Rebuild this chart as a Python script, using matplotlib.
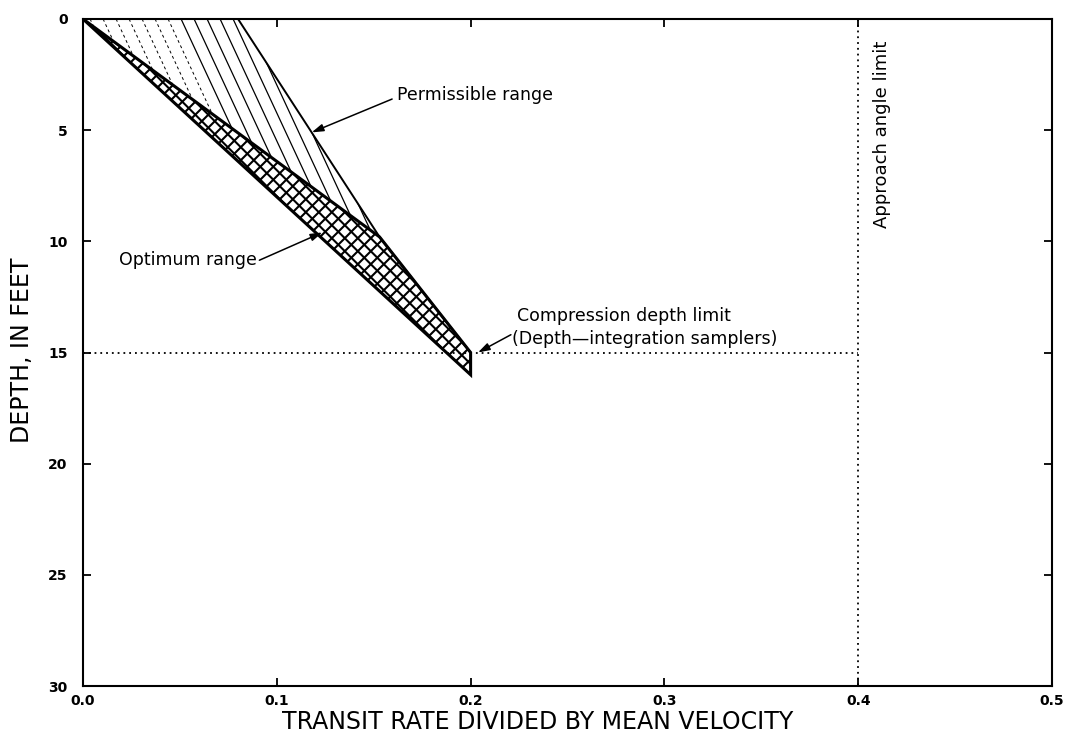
import matplotlib
matplotlib.use("Agg")
import matplotlib.pyplot as plt
import numpy as np
from matplotlib.patches import Polygon
from matplotlib.collections import LineCollection
from matplotlib.ticker import FormatStrFormatter

# chart values
approach_limit_x = 0.4
compression_depth = 15.0
# hatched part of the permissible range (between optimum band and outer line)
perm_x = [0.0, 0.08, 0.153]
perm_depth = [0.0, 0.0, 9.8]
# outer permissible line
perm_line_x = [0.08, 0.153, 0.2]
perm_line_depth = [0.0, 9.8, 15.0]
# optimum (cross-hatched) band
opt_x = [0.0, 0.153, 0.2, 0.2]
opt_depth = [0.0, 9.8, 15.0, 16.0]

x_ticks = [0.0, 0.1, 0.2, 0.3, 0.4, 0.5]
y_ticks = [0, 5, 10, 15, 20, 25, 30]

plt.rcParams['font.family'] = ['DejaVu Sans']

W, H, DPI = 1067, 734, 100
fig = plt.figure(figsize=(W / DPI, H / DPI), dpi=DPI)
ax = fig.add_axes([83 / W, 1 - 686 / H, (1052 - 83) / W, (686 - 19) / H])
ax.set_xlim(0, 0.5)
ax.set_ylim(30, 0)
ax.set_xticks(x_ticks)
ax.set_yticks(y_ticks)
ax.xaxis.set_major_formatter(FormatStrFormatter('%.1f'))
ax.tick_params(direction='in', length=6, width=1.3, top=True, right=True,
               labelsize=10)
ax.tick_params(axis='y', pad=11)
ax.tick_params(axis='x', pad=6)
for lab in ax.get_xticklabels() + ax.get_yticklabels():
    lab.set_fontweight('bold')
for sp in ax.spines.values():
    sp.set_linewidth(1.5)

# pixel scale of the axes, used for hatch spacing
pos = ax.get_position()
px_per_x = pos.width * W / 0.5
px_per_d = pos.height * H / 30.0


def hatch_segments(slope_px, spacing_px, x_from, x_to):
    m = slope_px * px_per_x / px_per_d
    sx = spacing_px / px_per_x
    segs = []
    for x0 in np.arange(x_from, x_to, sx):
        segs.append([(x0, 0.0), (x0 + 30.0 / m, 30.0)])
    return segs


# single hatch in the permissible range
perm_patch = Polygon(np.column_stack([perm_x, perm_depth]), closed=True,
                     facecolor='none', edgecolor='none')
ax.add_patch(perm_patch)
segs = hatch_segments(2.15, 13, -0.05, 0.2)
solid = [s for s in segs if s[0][0] >= 0.05]
faint = [s for s in segs if s[0][0] < 0.05]
lc = LineCollection(solid, colors='black', linewidths=0.9)
ax.add_collection(lc)
lc.set_clip_path(perm_patch)
lc2 = LineCollection(faint, colors='black', linewidths=0.7,
                     linestyles=[(0, (3, 3))])
ax.add_collection(lc2)
lc2.set_clip_path(perm_patch)

# cross hatch in the optimum band
opt_patch = Polygon(np.column_stack([opt_x, opt_depth]), closed=True,
                    facecolor='none', edgecolor='black', linewidth=2.2,
                    joinstyle='miter')
ax.add_patch(opt_patch)
cross = hatch_segments(1.0, 13, -0.3, 0.25) + hatch_segments(-1.0, 13, 0.0, 0.55)
lc3 = LineCollection(cross, colors='black', linewidths=1.5)
ax.add_collection(lc3)
lc3.set_clip_path(opt_patch)

ax.plot(perm_line_x, perm_line_depth, color='black', lw=1.4)

# limits
dots = (0, (1, 2.2))
ax.plot([0, approach_limit_x], [compression_depth, compression_depth],
        color='black', lw=1.3, linestyle=dots)
ax.plot([approach_limit_x, approach_limit_x], [0, 30],
        color='black', lw=1.3, linestyle=dots)

arrow = dict(arrowstyle='-|>,head_length=0.7,head_width=0.22', color='black',
             lw=1.1, shrinkA=0, shrinkB=0)
fs = 12.5
ax.text(0.162, 3.4, 'Permissible range', fontsize=fs, ha='left', va='center')
ax.annotate('', xy=(0.118, 5.1), xytext=(0.1595, 3.6), arrowprops=arrow)

ax.text(0.0895, 10.85, 'Optimum range', fontsize=fs, ha='right', va='center')
ax.annotate('', xy=(0.1235, 9.6), xytext=(0.091, 10.85), arrowprops=arrow)

ax.text(0.224, 13.35, 'Compression depth limit', fontsize=fs, ha='left',
        va='center')
ax.text(0.2214, 14.4, '(Depth\u2014integration samplers)', fontsize=fs,
        ha='left', va='center')
ax.annotate('', xy=(0.2038, 15.0), xytext=(0.2208, 14.2), arrowprops=arrow)

ax.text(0.4125, 5.2, 'Approach angle limit', fontsize=13, rotation=90,
        ha='center', va='center')

fig.text(538 / W, 1 - 722 / H, 'TRANSIT RATE DIVIDED BY MEAN VELOCITY',
         fontsize=17, ha='center', va='center')
fig.text(22 / W, 1 - 350 / H, 'DEPTH, IN FEET', fontsize=17, rotation=90,
         ha='center', va='center')

fig.savefig('out.png', dpi=DPI)
